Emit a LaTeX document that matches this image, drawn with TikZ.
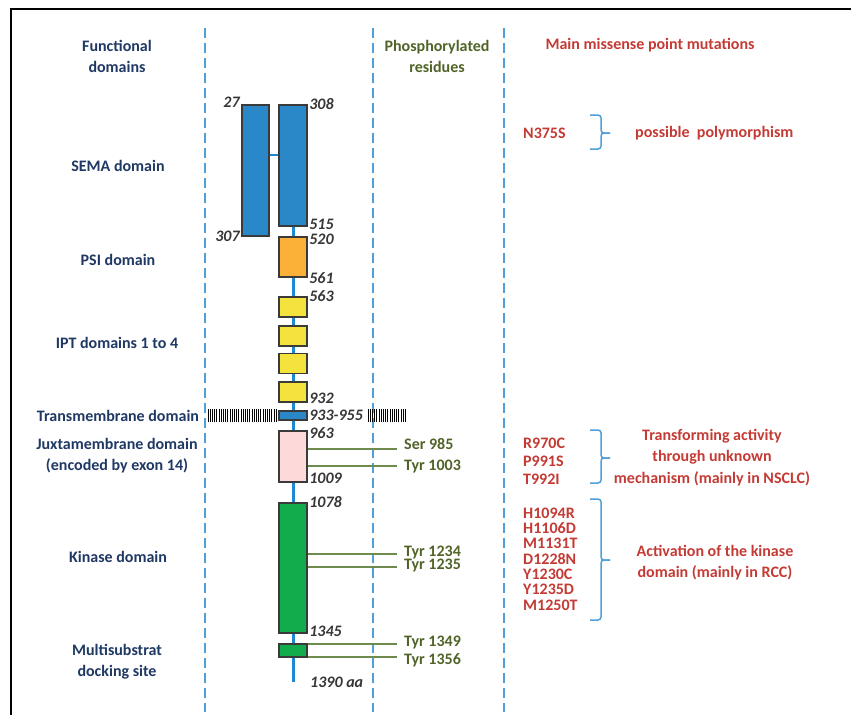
\documentclass[tikz,border=0pt]{standalone}
\usepackage{fontspec}
\setmainfont{Carlito}
\usetikzlibrary{positioning}
\definecolor{navy}{RGB}{31,56,100}
\definecolor{olivetext}{RGB}{80,100,40}
\definecolor{mutred}{RGB}{196,58,52}
\definecolor{numgray}{RGB}{55,55,55}
\definecolor{boxline}{RGB}{58,58,58}
\definecolor{semablue}{RGB}{42,136,200}
\definecolor{psiorange}{RGB}{251,177,56}
\definecolor{iptyellow}{RGB}{243,227,60}
\definecolor{jmpink}{RGB}{253,217,217}
\definecolor{kingreen}{RGB}{19,172,76}
\definecolor{bbblue}{RGB}{30,136,210}
\definecolor{sepblue}{RGB}{79,160,218}
\definecolor{resgreen}{RGB}{110,139,78}

\begin{document}
\begin{tikzpicture}[x=1pt, y=-1pt,
    txt/.style={font=\fontsize{16}{21}\selectfont\bfseries, align=center, inner sep=0pt},
    domlab/.style={txt, text=navy},
    phoslab/.style={txt, text=olivetext},
    reslab/.style={phoslab, anchor=west, inner xsep=7pt},
    mutlab/.style={txt, text=mutred},
    numlab/.style={font=\fontsize{16}{19}\selectfont\bfseries\itshape, text=numgray, inner sep=1.5pt},
    dombox/.style={draw=boxline, line width=1.3pt, inner sep=0pt, minimum width=28pt},
    backbone/.style={draw=bbblue, line width=3pt},
    colsep/.style={draw=sepblue, dash pattern=on 10pt off 5pt, line width=1.5pt},
    resline/.style={draw=resgreen, line width=1.6pt},
    bracket/.style={draw=sepblue, line width=1.5pt, rounded corners=3pt}]
    \useasboundingbox (0,0) rectangle (851,715);
    % frame
    \draw[line width=2.5pt] (11,715) -- (11,9) -- (851,9);
    % column separators
    \foreach \x in {205,373,504} \draw[colsep] (\x,28) -- (\x,712);
    % headers
    \node[domlab] (hdom) at (117,56) {Functional\\domains};
    \node[phoslab] (hphos) at (437,56) {Phosphorylated\\residues};
    \node[mutlab] (hmut) at (650,45) {Main missense point mutations};
    % domain names
    \node[domlab] (lsema) at (118,166) {SEMA domain};
    \node[domlab] (lpsi) at (118,260) {PSI domain};
    \node[domlab] (lipt) at (117,343) {IPT domains 1 to 4};
    \node[domlab] (ltm) at (118,416) {Transmembrane domain};
    \node[domlab] (ljm) at (117,456) {Juxtamembrane domain\\(encoded by exon 14)};
    \node[domlab] (lkin) at (118,557) {Kinase domain};
    \node[domlab] (ldock) at (117,661.5) {Multisubstrat\\docking site};
    % membrane
    \foreach \x in {208,210.2,...,278} \draw[line width=0.9pt] (\x,409) -- (\x,422);
    \foreach \x in {368,370.2,...,407} \draw[line width=0.9pt] (\x,409) -- (\x,422);
    % backbone
    \coordinate (bbtop) at (293,226);
    \coordinate (bbend) at (293,682);
    \draw[backbone] (bbtop) -- (bbend);
    % domains
    \node[dombox, fill=semablue, minimum width=27pt, minimum height=131pt] (semaL) at (255.5,170.5) {};
    \node[dombox, fill=semablue, minimum height=121pt] (semaR) at (293,165.5) {};
    \draw[backbone, line width=2pt] (semaL.east |- 0,155) -- (semaR.west |- 0,155);
    \node[dombox, fill=psiorange, minimum height=40pt] (psi) at (293,257) {};
    \foreach \n/\y in {1/307,2/336,3/363.5,4/392}
        \node[dombox, fill=iptyellow, minimum height=20pt] (ipt\n) at (293,\y) {};
    \node[dombox, fill=semablue, minimum height=9pt] (tm) at (293,415.5) {};
    \node[dombox, fill=jmpink, minimum height=51pt] (jm) at (293,456.5) {};
    \node[dombox, fill=kingreen, minimum height=130pt] (kin) at (293,568) {};
    \node[dombox, fill=kingreen, minimum height=13pt] (dock) at (293,650.5) {};
    % residue numbers
    \node[numlab, anchor=east] (n27) at ([yshift=2pt]semaL.north west) {27};
    \node[numlab, anchor=east] (n307) at (semaL.south west) {307};
    \node[numlab, anchor=west] (n308) at (semaR.north east) {308};
    \node[numlab, anchor=west] (n515) at ([yshift=2pt]semaR.south east) {515};
    \node[numlab, anchor=west] (n520) at ([yshift=-3pt]psi.north east) {520};
    \node[numlab, anchor=west] (n561) at (psi.south east) {561};
    \node[numlab, anchor=west] (n563) at (ipt1.north east) {563};
    \node[numlab, anchor=west] (n932) at ([yshift=4pt]ipt4.south east) {932};
    \node[numlab, anchor=west] (n933) at (tm.east) {933-955};
    \node[numlab, anchor=west] (n963) at ([yshift=-3pt]jm.north east) {963};
    \node[numlab, anchor=west] (n1009) at ([yshift=4pt]jm.south east) {1009};
    \node[numlab, anchor=west] (n1078) at (kin.north east) {1078};
    \node[numlab, anchor=west] (n1345) at ([yshift=2pt]kin.south east) {1345};
    \node[numlab, anchor=west] (n1390) at ([xshift=15.5pt]bbend) {1390 aa};
    % phosphorylated residues
    \node[reslab] (ser985) at (397,444) {Ser 985};
    \node[reslab] (tyr1003) at (397,467) {Tyr 1003};
    \node[reslab] (tyr1234) at (397,553) {Tyr 1234};
    \node[reslab] (tyr1235) at (397,566) {Tyr 1235};
    \node[reslab] (tyr1349) at (397,643) {Tyr 1349};
    \node[reslab] (tyr1356) at (397,660) {Tyr 1356};
    \draw[resline] (jm.east |- 0,449) -- (ser985.west |- 0,449);
    \draw[resline] (jm.east |- 0,466) -- (tyr1003.west |- 0,466);
    \draw[resline] (kin.east |- 0,554) -- (tyr1234.west |- 0,554);
    \draw[resline] (kin.east |- 0,567) -- (tyr1235.west |- 0,567);
    \draw[resline] (dock.east |- 0,644) -- (tyr1349.west |- 0,644);
    \draw[resline] (dock.east |- 0,657) -- (tyr1356.west |- 0,657);
    % mutations
    \node[mutlab, anchor=west] (n375s) at (523,133) {N375S};
    \node[mutlab, anchor=west] (poly) at (635,133) {possible~ polymorphism};
    \node[mutlab, anchor=west, align=left, font=\fontsize{16}{18}\selectfont\bfseries] (mutjm) at (523,461) {R970C\\P991S\\T992I};
    \node[mutlab, font=\fontsize{16}{21.5}\selectfont\bfseries] (effjm) at (712,457.5) {Transforming activity\\through unknown\\mechanism (mainly in NSCLC)};
    \node[mutlab, anchor=west, align=left, font=\fontsize{16}{15.3}\selectfont\bfseries] (mutkin) at (523,559) {H1094R\\H1106D\\M1131T\\D1228N\\Y1230C\\Y1235D\\M1250T};
    \node[mutlab] (effkin) at (715,562.5) {Activation of the kinase\\domain (mainly in RCC)};
    % brackets
    \foreach \t/\m/\b in {115/133/149, 430/458/483, 499/560/620} {
        \draw[bracket] (590,\t) -- (601,\t) -- (601,\m) -- (610,\m);
        \draw[bracket] (590,\b) -- (601,\b) -- (601,\m) -- (610,\m);
    }
\end{tikzpicture}
\end{document}
